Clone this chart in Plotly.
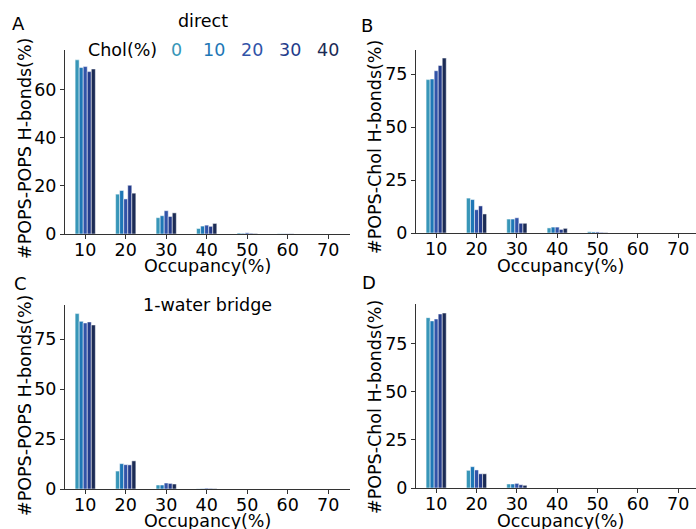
import plotly.graph_objects as go

# Occupancy bins (%) on the x axis
occupancy = [10, 20, 30, 40, 50, 60, 70]

# Cholesterol content of each series
chol_levels = ["0", "10", "20", "30", "40"]
chol_colors = ["#3896b8", "#1e77b6", "#3153a8", "#243c8b", "#1b2b55"]

# Panel A: POPS-POPS, direct H-bonds (one list per cholesterol level)
popspops_direct = [
    [72.5, 16.6, 6.8, 2.3, 0.4, 0.1, 0.0],
    [69.3, 18.1, 7.6, 3.3, 0.3, 0.1, 0.0],
    [69.7, 14.6, 9.7, 3.7, 0.5, 0.1, 0.0],
    [67.6, 20.3, 7.3, 3.2, 0.3, 0.1, 0.0],
    [68.7, 17.0, 8.8, 4.4, 0.2, 0.0, 0.0],
]

# Panel B: POPS-Chol, direct H-bonds
popschol_direct = [
    [72.5, 16.5, 6.6, 2.4, 0.6, 0.0, 0.0],
    [72.8, 15.8, 6.6, 2.8, 0.5, 0.0, 0.0],
    [76.7, 11.0, 7.2, 2.8, 0.5, 0.0, 0.0],
    [79.2, 12.8, 4.6, 1.7, 0.3, 0.0, 0.0],
    [82.7, 9.0, 4.6, 2.2, 0.2, 0.0, 0.0],
]

# Panel C: POPS-POPS, 1-water bridge
popspops_bridge = [
    [87.9, 9.0, 2.0, 0.1, 0.0, 0.0, 0.0],
    [84.0, 12.7, 2.0, 0.2, 0.0, 0.0, 0.0],
    [83.2, 12.2, 3.0, 0.4, 0.0, 0.0, 0.0],
    [83.7, 12.1, 2.8, 0.3, 0.0, 0.0, 0.0],
    [82.2, 14.1, 2.5, 0.2, 0.0, 0.0, 0.0],
]

# Panel D: POPS-Chol, 1-water bridge
popschol_bridge = [
    [88.7, 9.2, 2.1, 0.0, 0.0, 0.0, 0.0],
    [87.0, 11.1, 2.1, 0.0, 0.0, 0.0, 0.0],
    [88.0, 9.4, 2.4, 0.0, 0.0, 0.0, 0.0],
    [90.6, 7.4, 1.7, 0.0, 0.0, 0.0, 0.0],
    [91.1, 7.4, 1.4, 0.0, 0.0, 0.0, 0.0],
]

y_titles = [
    "#POPS-POPS H-bonds(%)",
    "#POPS-Chol H-bonds(%)",
    "#POPS-POPS H-bonds(%)",
    "#POPS-Chol H-bonds(%)",
]
panel_letters = ["A", "B", "C", "D"]

W, H = 696, 529
FONT = "DejaVu Sans"
FS = 17.5
AXIS_COLOR = "#333333"


def px_x(v):
    return v / W


def px_y(v):
    return 1 - v / H


# Plot-area boxes in pixels: (left, right, top, bottom)
boxes = [
    (65, 350, 50, 234),
    (416, 696, 50, 233),
    (65, 350, 305, 489),
    (416, 696, 304, 488),
]
x_ranges = [[5, 75.4], [5, 74.4], [5, 75.4], [5, 74.4]]
y_ranges = [[0, 76.6], [0, 86.5], [0, 92.2], [0, 95.8]]
y_dticks = [20, 25, 25, 25]

datasets = [popspops_direct, popschol_direct, popspops_bridge, popschol_bridge]

fig = go.Figure()

for p, data in enumerate(datasets):
    xa = "x" if p == 0 else f"x{p + 1}"
    ya = "y" if p == 0 else f"y{p + 1}"
    for s, vals in enumerate(data):
        fig.add_trace(go.Bar(
            x=occupancy, y=vals, name=chol_levels[s],
            marker=dict(color=chol_colors[s],
                        line=dict(color="rgba(255,255,255,0.85)", width=0.6)),
            offsetgroup=str(s), xaxis=xa, yaxis=ya, showlegend=False,
        ))

    l, r, t, b = boxes[p]
    suffix = "" if p == 0 else str(p + 1)
    fig.layout["xaxis" + suffix] = dict(
        domain=[px_x(l), px_x(r)], range=x_ranges[p], anchor=ya,
        tickvals=occupancy, ticks="outside", ticklen=4, tickwidth=1,
        tickcolor=AXIS_COLOR, showline=True, linecolor=AXIS_COLOR, linewidth=1,
        showgrid=False, zeroline=False, automargin=False,
        ticklabelstandoff=-4,
        tickfont=dict(family=FONT, size=FS, color="black"),
    )
    fig.layout["yaxis" + suffix] = dict(
        domain=[px_y(b), px_y(t)], range=y_ranges[p], anchor=xa,
        dtick=y_dticks[p], tick0=0, ticks="outside", ticklen=4, tickwidth=1,
        tickcolor=AXIS_COLOR, showline=True, linecolor=AXIS_COLOR, linewidth=1,
        showgrid=False, zeroline=False, automargin=False,
        tickfont=dict(family=FONT, size=FS, color="black"),
    )

annotations = []


def add_text(text, x, y, color="black", angle=0, size=FS):
    annotations.append(dict(
        text=text, x=px_x(x), y=px_y(y), xref="paper", yref="paper",
        xanchor="center", yanchor="middle", showarrow=False, textangle=angle,
        font=dict(family=FONT, size=size, color=color),
    ))


# Axis titles
y_title_pos = [(25, 149), (375, 147), (25, 406), (375, 407)]
x_title_pos = [(207, 266), (560, 266), (207, 521), (560, 521)]
for p in range(4):
    add_text(y_titles[p], *y_title_pos[p], angle=-90)
    add_text("Occupancy(%)", *x_title_pos[p])

# Panel letters
letter_pos = [(18, 24), (367, 25), (20, 283), (369, 282)]
for letter, pos in zip(panel_letters, letter_pos):
    add_text(letter, *pos, size=18)

# Panel headings
add_text("direct", 203, 21)
add_text("1-water bridge", 207, 305)

# Colour key for cholesterol content
add_text("Chol(%)", 122, 50)
key_x = [176, 214, 252, 290, 328]
for lvl, col, kx in zip(chol_levels, chol_colors, key_x):
    add_text(lvl, kx, 50, color=col)

fig.update_layout(
    width=W, height=H, margin=dict(l=0, r=0, t=0, b=0),
    barmode="group", bargap=0.5, bargroupgap=0.0,
    paper_bgcolor="white", plot_bgcolor="white",
    annotations=annotations,
)

fig.write_html("out.html")
